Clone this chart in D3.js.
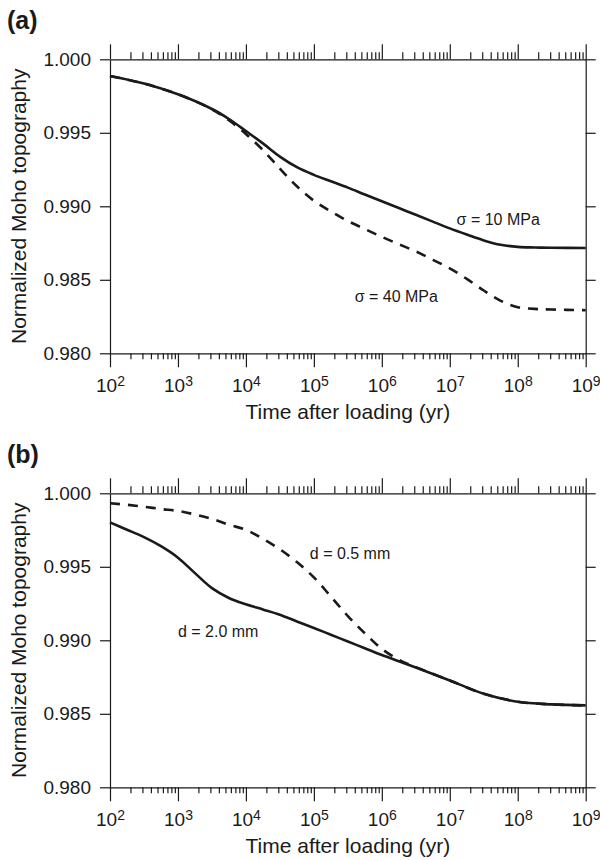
<!DOCTYPE html>
<html>
<head>
<meta charset="utf-8">
<script src="https://cdn.jsdelivr.net/npm/d3@7"></script>
<style>
  body { margin: 0; background: #fff; }
  svg { display: block; font-family: "Liberation Sans", Arial, Helvetica, sans-serif; }
</style>
</head>
<body>
<svg id="chart" width="600" height="860"></svg>
<script>
// time values are log10(years)
const timeA = [2, 2.5, 3, 3.5, 3.75, 4, 4.25, 4.5, 4.75, 5, 5.25, 5.5, 5.75, 6, 6.25, 6.5, 6.75, 7, 7.25, 7.5, 7.75, 8, 8.25, 8.5, 9];
const sigma10 = [0.99886, 0.99835, 0.99762, 0.99662, 0.99594, 0.99512, 0.99428, 0.99338, 0.99266, 0.99214, 0.99170, 0.99127, 0.99080, 0.99034, 0.98988, 0.98942, 0.98896, 0.98850, 0.98808, 0.98768, 0.98738, 0.98724, 0.98720, 0.98718, 0.98716];
const sigma40 = [0.99886, 0.99835, 0.99762, 0.99660, 0.99585, 0.99492, 0.99383, 0.99256, 0.99136, 0.99038, 0.98965, 0.98900, 0.98845, 0.98792, 0.98742, 0.98693, 0.98636, 0.98578, 0.98506, 0.98427, 0.98357, 0.98314, 0.98302, 0.98298, 0.98293];

const timeB = [2, 2.25, 2.5, 2.75, 3, 3.25, 3.5, 3.75, 4, 4.25, 4.5, 4.75, 5, 5.25, 5.5, 5.75, 6, 6.25, 6.5, 7, 7.5, 8, 8.5, 9];
const d20 = [0.99802, 0.99752, 0.99702, 0.99640, 0.99562, 0.99457, 0.99355, 0.99288, 0.99245, 0.99210, 0.99174, 0.99128, 0.99084, 0.99038, 0.98992, 0.98946, 0.98900, 0.98858, 0.98815, 0.98727, 0.98636, 0.98582, 0.98564, 0.98557];
const d05 = [0.99932, 0.99922, 0.99909, 0.99893, 0.99880, 0.99856, 0.99826, 0.99786, 0.99752, 0.99690, 0.99619, 0.99532, 0.99428, 0.99298, 0.99165, 0.99048, 0.98942, 0.98868, 0.98818, 0.98727, 0.98636, 0.98582, 0.98564, 0.98557];

const yTicks = [0.980, 0.985, 0.990, 0.995, 1.000];
const decadeExps = [2, 3, 4, 5, 6, 7, 8, 9];
const panelLabels = ["(a)", "(b)"];
const xTitle = "Time after loading (yr)";
const yTitle = "Normalized Moho topography";

// annotation anchors in data units (log10 yr, normalized value)
const notesA = [
  { text: "σ = 10 MPa", logt: 7.10, v: 0.98872 },
  { text: "σ = 40 MPa", logt: 5.60, v: 0.98349 }
];
const notesB = [
  { text: "d = 0.5 mm", logt: 4.94, v: 0.99550 },
  { text: "d = 2.0 mm", logt: 3.00, v: 0.99024 }
];

const svg = d3.select("#chart");
const left = 110, right = 585.7, ph = 294;
const ink = "#1a1a1a";

const x = d3.scaleLog().domain([1e2, 1e9]).range([left, right]);
const majors = decadeExps.map(e => 10 ** e);
const minors = d3.merge(decadeExps.slice(0, -1).map(e => d3.range(2, 10).map(k => k * 10 ** e)));

const styleAxis = (g) => {
  g.attr("font-family", null).attr("font-size", 19).attr("color", ink);
  g.selectAll("path, line").attr("stroke-width", 1.2);
};

function drawPanel(top, label, series, notes) {
  const y = d3.scaleLinear().domain([0.98, 1.0]).range([top + ph, top]);
  const g = svg.append("g");
  const bottom = top + ph;

  // bottom axis: decades with 10^n labels
  g.append("g").attr("transform", `translate(0,${bottom})`)
    .call(d3.axisBottom(x).tickValues(majors).tickSize(14).tickPadding(11).tickSizeOuter(0).tickFormat(""))
    .call(styleAxis)
    .selectAll(".tick text").each(function (d) {
      const t = d3.select(this);
      t.append("tspan").text("10");
      t.append("tspan").attr("dy", "-0.38em").attr("font-size", 14).text(Math.round(Math.log10(d)));
    });
  g.append("g").attr("transform", `translate(0,${bottom})`)
    .call(d3.axisBottom(x).tickValues(minors).tickSize(6).tickFormat(""))
    .call(styleAxis)
    .call(a => a.select(".domain").remove());

  // top axis, no labels
  g.append("g").attr("transform", `translate(0,${top})`)
    .call(d3.axisTop(x).tickValues(majors).tickSize(15).tickSizeOuter(0).tickFormat(""))
    .call(styleAxis);
  g.append("g").attr("transform", `translate(0,${top})`)
    .call(d3.axisTop(x).tickValues(minors).tickSize(7).tickFormat(""))
    .call(styleAxis)
    .call(a => a.select(".domain").remove());

  // left and right axes
  g.append("g").attr("transform", `translate(${left},0)`)
    .call(d3.axisLeft(y).tickValues(yTicks).tickSize(10).tickPadding(9).tickSizeOuter(0).tickFormat(d3.format(".3f")))
    .call(styleAxis);
  g.append("g").attr("transform", `translate(${right},0)`)
    .call(d3.axisRight(y).tickValues(yTicks).tickSize(10).tickSizeOuter(0).tickFormat(""))
    .call(styleAxis);

  // curves
  const line = d3.line()
    .x(d => x(10 ** d[0]))
    .y(d => y(d[1]))
    .curve(d3.curveCatmullRom.alpha(0.5));
  series.forEach(s => {
    g.append("path")
      .datum(d3.zip(s.t, s.v))
      .attr("fill", "none")
      .attr("stroke", ink)
      .attr("stroke-width", 2.6)
      .attr("stroke-dasharray", s.dashed ? "10,8" : null)
      .attr("d", line);
  });

  // annotations
  g.selectAll(".note").data(notes).join("text")
    .attr("class", "note")
    .attr("x", d => x(10 ** d.logt))
    .attr("y", d => y(d.v))
    .attr("font-size", 16)
    .attr("fill", ink)
    .text(d => d.text);

  // titles
  g.append("text")
    .attr("x", (left + right) / 2)
    .attr("y", bottom + 66)
    .attr("text-anchor", "middle")
    .attr("font-size", 21)
    .attr("fill", ink)
    .text(xTitle);
  g.append("text")
    .attr("transform", `translate(26,${(top + bottom) / 2}) rotate(-90)`)
    .attr("text-anchor", "middle")
    .attr("font-size", 21)
    .attr("fill", ink)
    .text(yTitle);

  // panel letter
  g.append("text")
    .attr("x", 7)
    .attr("y", top - 30)
    .attr("font-size", 25)
    .attr("font-weight", "bold")
    .attr("fill", ink)
    .text(label);
}

drawPanel(59.3, panelLabels[0], [
  { t: timeA, v: sigma10, dashed: false },
  { t: timeA, v: sigma40, dashed: true }
], notesA);

drawPanel(493.3, panelLabels[1], [
  { t: timeB, v: d20, dashed: false },
  { t: timeB, v: d05, dashed: true }
], notesB);
</script>
</body>
</html>
